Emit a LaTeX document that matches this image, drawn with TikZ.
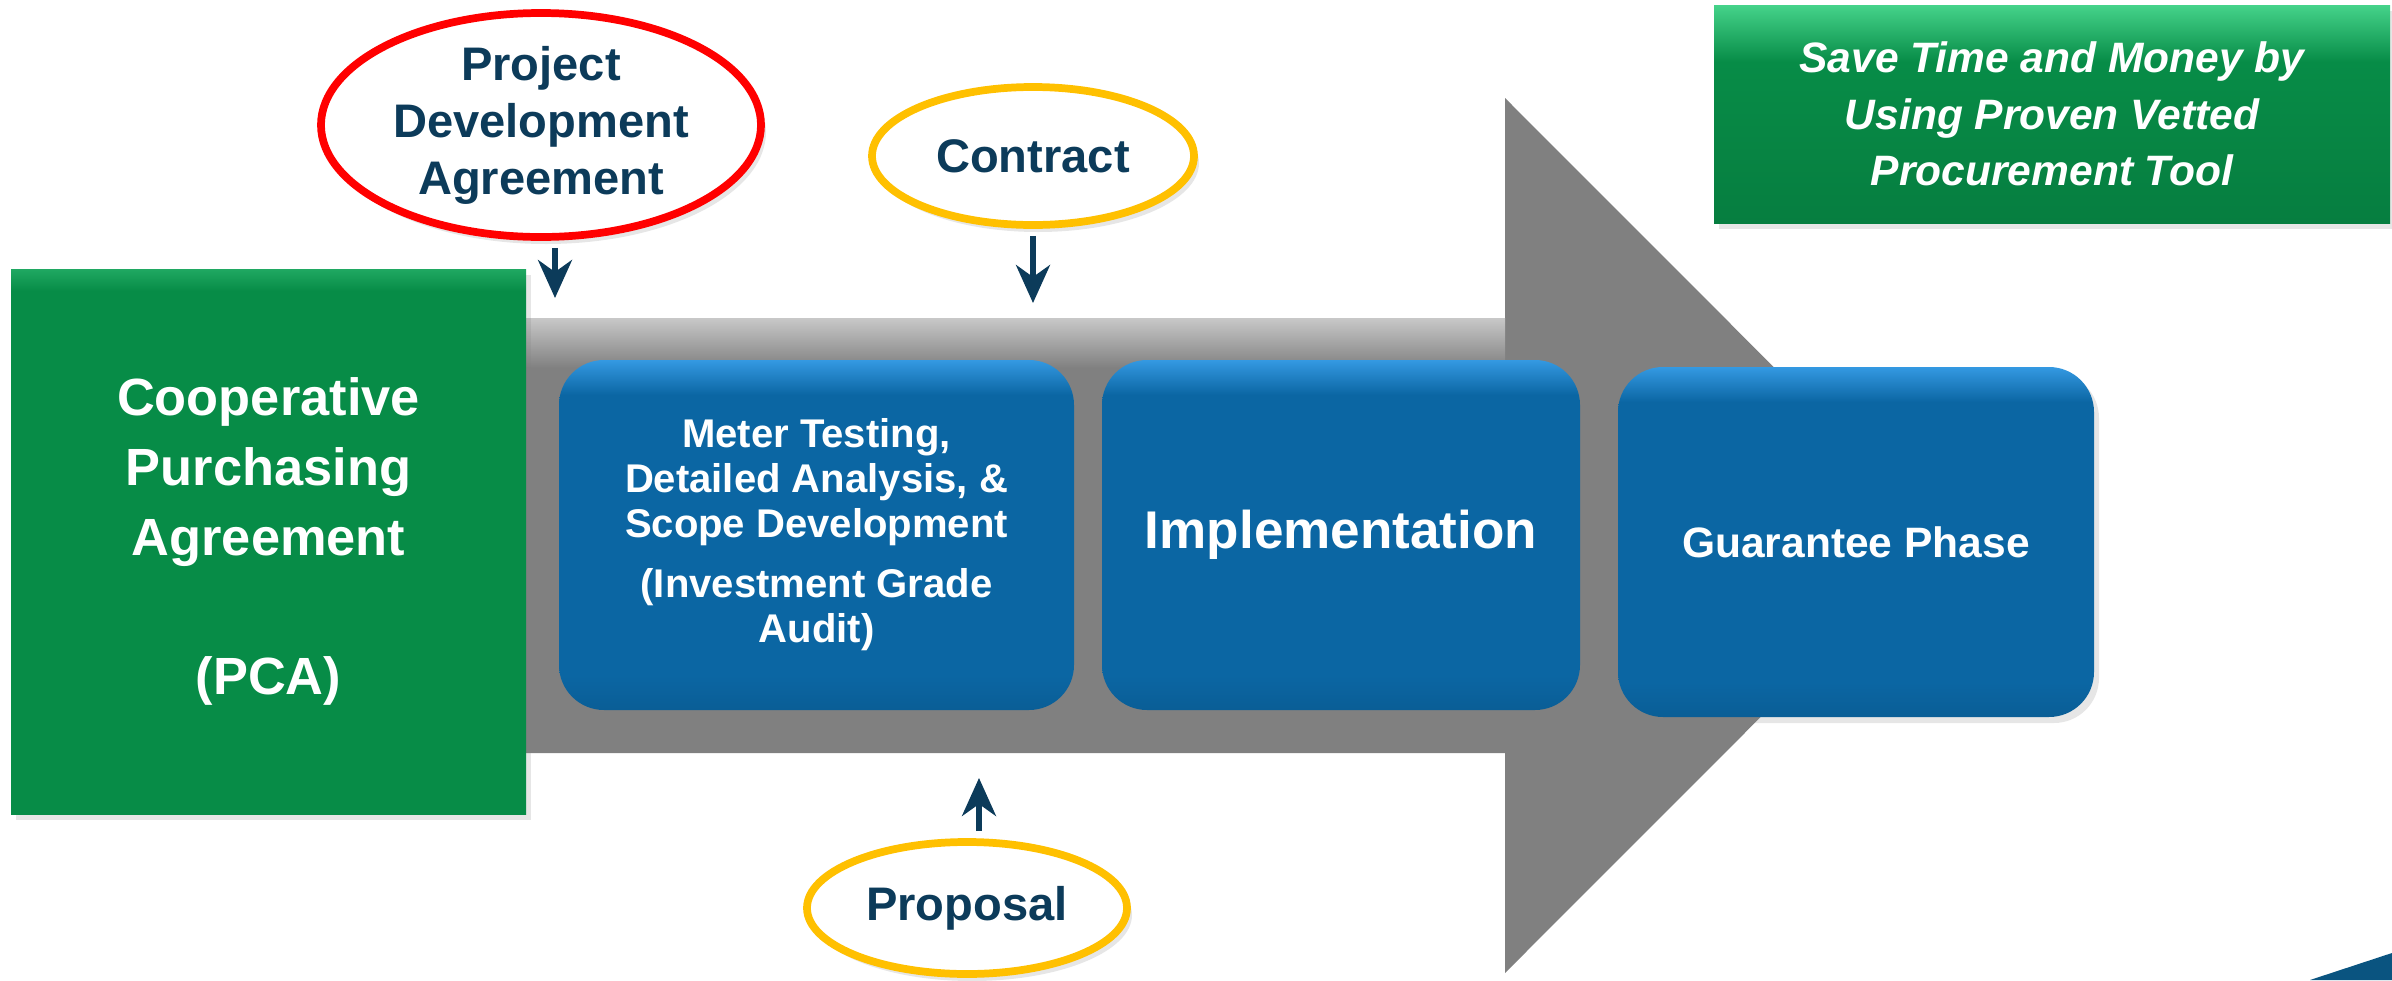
\documentclass[tikz,border=0pt]{standalone}
\usepackage{fontspec}
\setmainfont{Liberation Sans}
\usetikzlibrary{arrows.meta,shadows,shapes.geometric}

\definecolor{navy}{HTML}{0C3B5A}
\definecolor{pcagreen}{HTML}{078C47}
\definecolor{greenhi}{HTML}{45D38A}
\definecolor{phaseblue}{HTML}{0B66A3}
\definecolor{bluehi}{HTML}{3499E2}
\definecolor{arrowgray}{HTML}{808080}
\definecolor{grayhi}{HTML}{C8C8C8}
\definecolor{bubblered}{HTML}{FF0000}
\definecolor{bubbleyellow}{HTML}{FFC000}
\definecolor{cornerblue}{HTML}{0A5480}

\pgfdeclareverticalshading{phaseshade}{100bp}{color(0bp)=(phaseblue!92!black); color(25bp)=(phaseblue!92!black); color(30bp)=(phaseblue); color(70bp)=(phaseblue); color(75bp)=(bluehi); color(100bp)=(bluehi)}
\pgfdeclareverticalshading{pcashade}{100bp}{color(0bp)=(pcagreen); color(73bp)=(pcagreen); color(75bp)=(pcagreen!60!greenhi); color(100bp)=(pcagreen!60!greenhi)}
\pgfdeclareverticalshading{saveshade}{100bp}{color(0bp)=(pcagreen!90!black); color(25bp)=(pcagreen!90!black); color(62bp)=(pcagreen); color(75bp)=(greenhi); color(100bp)=(greenhi)}

\tikzset{
  bubble/.style={ellipse, draw, line width=2.2pt, fill=white, inner sep=0pt, text=navy, align=center,
    font=\bfseries\fontsize{13.4}{16.2}\selectfont,
    drop shadow={opacity=0.2, shadow xshift=0.05cm, shadow yshift=-0.07cm}},
  phase/.style={rounded corners=0.45cm, shading=phaseshade, text=white, align=center, inner sep=0pt,
    minimum height=3.5cm,
    drop shadow={opacity=0.2, shadow xshift=0.05cm, shadow yshift=-0.06cm}},
  greenbox/.style={text=white, align=center, inner sep=0pt,
    drop shadow={opacity=0.2, shadow xshift=0.05cm, shadow yshift=-0.06cm}},
  feed/.style={draw=navy, line width=1.5pt, shorten <=2pt,
    -{Stealth[length=0.38cm, width=0.34cm, inset=0.12cm]}}
}

\begin{document}
\begin{tikzpicture}
\useasboundingbox (0,0) rectangle (23.92,9.80);
\fill[arrowgray] (5.20,6.62) -- (15.05,6.62) -- (15.05,8.82) -- (19.42,4.445) -- (15.05,0.07) -- (15.05,2.27) -- (5.20,2.27) -- cycle;
\shade[top color=grayhi, bottom color=arrowgray] (5.20,6.62) rectangle (15.05,6.12);
\fill[cornerblue] (23.10,0) -- (23.92,0.27) -- (23.92,0) -- cycle;

\node[greenbox, shading=pcashade, minimum width=5.15cm, minimum height=5.45cm, font=\bfseries\fontsize{14.9}{19.9}\selectfont] (pca) at (2.685,4.385) {Cooperative\\Purchasing\\Agreement\\[19.9pt](PCA)};
\node[phase, minimum width=5.15cm, font=\bfseries\fontsize{11.4}{12.8}\selectfont] (audit) at (8.165,4.45) {Meter Testing,\\Detailed Analysis, \&\\Scope Development\\[4.3pt](Investment Grade\\Audit)};
\node[phase, minimum width=4.78cm, font=\bfseries\fontsize{15.1}{18}\selectfont] (implement) at (13.41,4.45) {Implementation};
\node[phase, minimum width=4.76cm, font=\bfseries\fontsize{12.1}{14.5}\selectfont] (guarantee) at (18.56,4.38) {Guarantee Phase};

\node[greenbox, shading=saveshade, minimum width=6.76cm, minimum height=2.18cm, font=\bfseries\itshape\fontsize{12.1}{16.1}\selectfont] (savings) at (20.52,8.66) {Save Time and Money by\\Using Proven Vetted\\Procurement Tool};

\node[bubble, draw=bubblered, minimum width=4.40cm, minimum height=2.24cm] (pda) at (5.41,8.55) {Project\\Development\\Agreement};
\node[bubble, draw=bubbleyellow, minimum width=3.22cm, minimum height=1.38cm] (contract) at (10.33,8.24) {Contract};
\node[bubble, draw=bubbleyellow, minimum width=3.20cm, minimum height=1.32cm] (proposal) at (9.67,0.72) {Proposal};

\coordinate (pdatip) at (5.55,6.82);
\coordinate (contracttip) at (10.33,6.77);
\coordinate (proposaltip) at (9.79,2.02);
\draw[feed] (pda.south -| pdatip) -- (pdatip);
\draw[feed] (contract.south) -- (contracttip);
\draw[feed] (proposal.north -| proposaltip) -- (proposaltip);
\end{tikzpicture}
\end{document}
